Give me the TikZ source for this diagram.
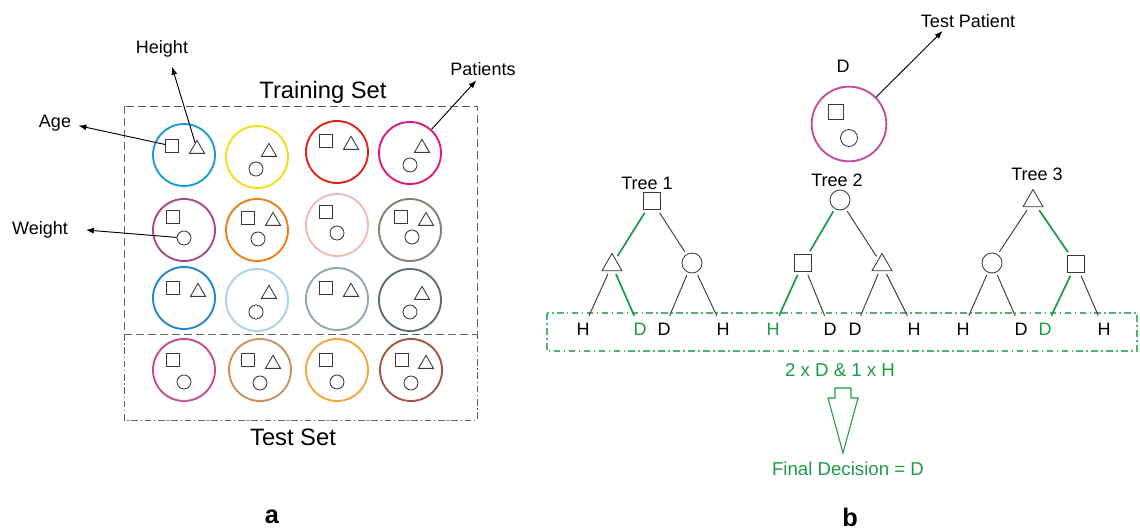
\documentclass[tikz,border=0pt]{standalone}
\usepackage{fontspec}
\setmainfont{Liberation Sans}
\usetikzlibrary{arrows.meta,shapes.geometric}

\definecolor{ringA}{HTML}{1B9AD6}
\definecolor{ringB}{HTML}{F7D917}
\definecolor{ringC}{HTML}{E2231A}
\definecolor{ringD}{HTML}{E5177E}
\definecolor{ringE}{HTML}{A4478F}
\definecolor{ringF}{HTML}{EE7D1A}
\definecolor{ringG}{HTML}{F4B6B7}
\definecolor{ringH}{HTML}{8C7D74}
\definecolor{ringI}{HTML}{1E88C8}
\definecolor{ringJ}{HTML}{A6D3EF}
\definecolor{ringK}{HTML}{94A6B2}
\definecolor{ringL}{HTML}{5F6D75}
\definecolor{ringM}{HTML}{C64A9A}
\definecolor{ringN}{HTML}{C98F5E}
\definecolor{ringO}{HTML}{F6A53A}
\definecolor{ringP}{HTML}{A2553F}
\definecolor{shapegray}{HTML}{3A3A3A}
\definecolor{boxgray}{HTML}{606060}
\definecolor{pathgreen}{HTML}{1E9B45}
\definecolor{boxgreen}{HTML}{4DB36E}

\begin{document}
\begin{tikzpicture}[
  x=0.75pt,y=-0.75pt,
  font=\fontsize{13.5}{16}\selectfont,
  patient/.style={circle,line width=1.4pt,minimum size=46.5pt,inner sep=0pt},
  featsq/.style={draw=shapegray,line width=0.65pt,minimum size=9.75pt,inner sep=0pt},
  feattri/.style={draw=shapegray,line width=0.65pt,regular polygon,regular polygon sides=3,minimum size=13pt,inner sep=0pt},
  featcirc/.style={draw=shapegray,line width=0.65pt,circle,minimum size=10.5pt,inner sep=0pt},
  treesq/.style={featsq,minimum size=12.75pt,outer sep=2.5pt},
  treetri/.style={feattri,minimum size=17.3pt,outer sep=2.5pt},
  treecirc/.style={featcirc,minimum size=15pt,outer sep=2.5pt},
  pointer/.style={-{Latex[length=6pt,width=4.5pt]},line width=0.7pt},
  setlabel/.style={font=\fontsize{17.8}{20}\selectfont},
  leaf/.style={font=\fontsize{13.5}{16}\selectfont,outer sep=2pt},
  branch/.style={draw=shapegray,line width=0.7pt},
  winbranch/.style={draw=pathgreen,line width=1.3pt},
  vote/.style={text=pathgreen,font=\fontsize{14}{16}\selectfont},
  panel/.style={font=\bfseries\fontsize{19}{22}\selectfont},
]
  \useasboundingbox (0,0) rectangle (1140,530);

  % panel a
  \draw[boxgray,line width=0.7pt,dash pattern=on 6pt off 3pt] (124,106) rectangle (477,334);
  \draw[boxgray,line width=0.7pt,dash pattern=on 5pt off 2pt on 1pt off 2pt] (124,334) -- (124,420) -- (477,420) -- (477,334);
  \node[setlabel] (trainlbl) at (323,92) {Training Set};
  \node[setlabel] (testlbl) at (293,437) {Test Set};

  \foreach \px/\py/\pc [count=\i] in {184/155/ringA,257/157/ringB,337/152/ringC,410/153/ringD,
      184/230/ringE,257/230/ringF,337/225/ringG,410/230/ringH,
      184/298/ringI,257/300/ringJ,337/299/ringK,410/300/ringL,
      184/370/ringM,260/370/ringN,337/370/ringO,411/370/ringP}
    \node[patient,draw=\pc] (p\i) at (\px,\py) {};

  \foreach \sx/\sy [count=\i] in {172/146,326/141,173/217,248/218,326/212,401/217,
      173/288,326/288,173/360,248/360,326/360,402/360}
    \node[featsq] (sq\i) at (\sx,\sy) {};
  \foreach \tx/\ty [count=\i] in {197/149,269/152,351/145,422/148,273/221,426/221,
      198/292,269/294,351/292,422/295,273/364,426/364}
    \node[feattri] (tr\i) at (\tx,\ty) {};
  \foreach \cx/\cy [count=\i] in {256/169,410/165,184/238,258/239,337/233,412/237,
      256/312,410/312,184/382,260/383,337/382,411/383}
    \node[featcirc] (ci\i) at (\cx,\cy) {};

  \node (heightlbl) at (162,49) {Height};
  \node (agelbl) at (55,123) {Age};
  \node (weightlbl) at (40,230) {Weight};
  \node (patlbl) at (483,69) {Patients};
  \draw[pointer] (tr1) -- ([xshift=7.5pt,yshift=-3.5pt]heightlbl.south);
  \draw[pointer] (sq1) -- ([xshift=2pt,yshift=-2pt]agelbl.east);
  \draw[pointer] (ci3) -- ([xshift=10pt]weightlbl.east);
  \draw[pointer] (p4) -- ([xshift=-5pt]patlbl.south);

  \node[panel] (pa) at (272,517) {a};

  % panel b
  \node[patient,draw=ringM,minimum size=56pt] (tp) at (849,124) {};
  \node[featsq,minimum size=11.25pt] (tpsq) at (836,112) {};
  \node[featcirc,minimum size=12.75pt] (tpci) at (849,138) {};
  \node (tpd) at (843,66) {D};
  \node (tplbl) at (968,21) {Test Patient};
  \draw[pointer] (tp) -- ([xshift=-19pt,yshift=1pt]tplbl.south);

  \node (t1lbl) at (647,183) {Tree 1};
  \node (t2lbl) at (837,180) {Tree 2};
  \node (t3lbl) at (1037,174) {Tree 3};

  \node[treesq] (r1) at (652,201) {};
  \node[treetri] (a1) at (612,265) {};
  \node[treecirc] (b1) at (692,263) {};
  \node[treecirc] (r2) at (840,200) {};
  \node[treesq] (a2) at (803,263) {};
  \node[treetri] (b2) at (882,265) {};
  \node[treetri] (r3) at (1033,201) {};
  \node[treecirc] (a3) at (992,263) {};
  \node[treesq] (b3) at (1076,264) {};

  \draw[boxgreen,line width=0.8pt,dash pattern=on 5pt off 2.5pt on 1.2pt off 2.5pt] (547,313) rectangle (1137,351);

  \foreach \n/\x/\t/\c in {l1a/583/H/black,l1b/640/D/pathgreen,l1c/664/D/black,l1d/723/H/black,
      l2a/773/H/pathgreen,l2b/830/D/black,l2c/855/D/black,l2d/914/H/black,
      l3a/963/H/black,l3b/1021/D/black,l3c/1045/D/pathgreen,l3d/1104/H/black}
    \node[leaf,text=\c] (\n) at (\x,329) {\t};

  \foreach \u/\v in {r1/b1,a1/l1a,b1/l1c,b1/l1d,r2/b2,a2/l2b,b2/l2c,b2/l2d,
      r3/a3,a3/l3a,a3/l3b,b3/l3d}
    \draw[branch] (\u) -- (\v);
  \foreach \u/\v in {r1/a1,a1/l1b,r2/a2,a2/l2a,r3/b3,b3/l3c}
    \draw[winbranch] (\u) -- (\v);

  \node[vote] (votes) at (840,370) {2 x D \& 1 x H};
  \draw[pathgreen,line width=0.8pt] (835,388) -- (851,388) -- (851,398) -- (858,398) -- (843,453) -- (828,398) -- (835,398) -- cycle;
  \node[vote] (final) at (848,469) {Final Decision = D};

  \node[panel] (pb) at (850,517) {b};
\end{tikzpicture}
\end{document}
